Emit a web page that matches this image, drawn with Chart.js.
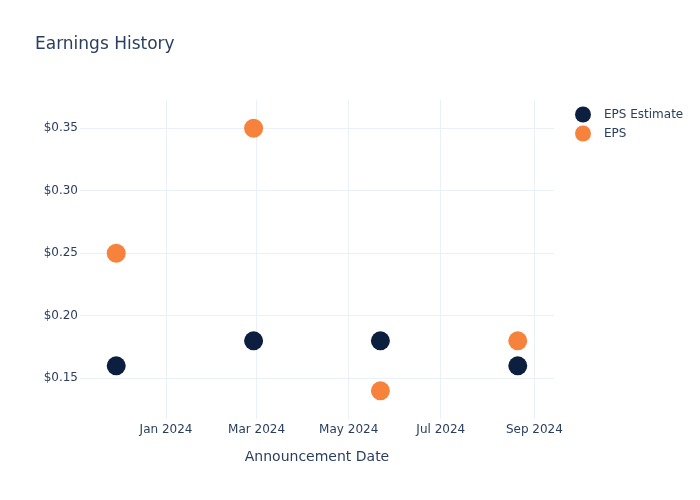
<!DOCTYPE html>
<html>
<head>
<meta charset="utf-8">
<title>Earnings History</title>
<script src="https://cdn.jsdelivr.net/npm/chart.js@4.4.1/dist/chart.umd.min.js"></script>
<style>
  html, body { margin: 0; padding: 0; background: #fff; }
  #wrap { width: 700px; height: 500px; }
</style>
</head>
<body>
<div id="wrap"><canvas id="myChart" width="700" height="500"></canvas></div>
<script>
// announcement dates and EPS values
const announceDates = ["2023-11-29", "2024-02-28", "2024-05-22", "2024-08-21"];
const epsEstimate = [0.16, 0.18, 0.18, 0.16];
const epsActual = [0.25, 0.35, 0.14, 0.18];

// axis ticks
const xTickDates = ["2024-01-01", "2024-03-01", "2024-05-01", "2024-07-01", "2024-09-01"];
const xTickLabels = ["Jan 2024", "Mar 2024", "May 2024", "Jul 2024", "Sep 2024"];
const yTicks = [0.15, 0.2, 0.25, 0.3, 0.35];
const xRange = ["2023-11-05", "2024-09-14"];
const yRange = [0.1175, 0.3726];

const seriesNames = ["EPS Estimate", "EPS"];
const seriesColors = ["#0c1f3f", "#f7823b"];

const textColor = "#2a3f5f";
const gridColor = "#ebf0f8";

Chart.defaults.font.family = "'DejaVu Sans', sans-serif";
Chart.defaults.color = textColor;

const toPoints = (vals) => vals.map((v, i) => ({ x: Date.parse(announceDates[i]), y: v }));

// title + legend drawn by hand, plotly-ish placement
const decorPlugin = {
  id: "decor",
  afterDraw(chart) {
    const ctx = chart.ctx;
    ctx.save();
    ctx.fillStyle = textColor;
    ctx.textBaseline = "middle";
    ctx.textAlign = "left";
    ctx.font = "17px 'DejaVu Sans', sans-serif";
    ctx.fillText("Earnings History", 35, 45);

    ctx.font = "12px 'DejaVu Sans', sans-serif";
    chart.data.datasets.forEach((ds, i) => {
      const y = 114.5 + i * 19;
      ctx.beginPath();
      ctx.fillStyle = ds.backgroundColor;
      ctx.arc(583, y, 8, 0, Math.PI * 2);
      ctx.fill();
      ctx.fillStyle = textColor;
      ctx.fillText(ds.label, 604, y);
    });
    ctx.restore();
  },
};

const chartCanvas = document.getElementById("myChart").getContext("2d");
new Chart(chartCanvas, {
  type: "scatter",
  data: {
    datasets: [
      {
        label: seriesNames[0],
        data: toPoints(epsEstimate),
        backgroundColor: seriesColors[0],
        borderWidth: 0,
        pointRadius: 9.5,
        pointHoverRadius: 9.5,
      },
      {
        label: seriesNames[1],
        data: toPoints(epsActual),
        backgroundColor: seriesColors[1],
        borderWidth: 0,
        pointRadius: 9.5,
        pointHoverRadius: 9.5,
      },
    ],
  },
  options: {
    responsive: false,
    animation: false,
    layout: { padding: { top: 100, right: 146, bottom: 0, left: 0 } },
    plugins: {
      legend: { display: false },
      tooltip: { enabled: false },
    },
    scales: {
      x: {
        type: "linear",
        min: Date.parse(xRange[0]),
        max: Date.parse(xRange[1]),
        afterBuildTicks: (scale) => {
          scale.ticks = xTickDates.map((d) => ({ value: Date.parse(d) }));
        },
        afterFit: (scale) => {
          scale.height = 81;
        },
        grid: { color: gridColor, drawTicks: false },
        border: { display: false },
        ticks: {
          autoSkip: false,
          maxRotation: 0,
          padding: 4,
          font: { size: 12 },
          callback: (value, index) => xTickLabels[index],
        },
        title: {
          display: true,
          text: "Announcement Date",
          font: { size: 14 },
          padding: { top: 0, bottom: 34 },
        },
      },
      y: {
        min: yRange[0],
        max: yRange[1],
        afterBuildTicks: (scale) => {
          scale.ticks = yTicks.map((v) => ({ value: v }));
        },
        afterFit: (scale) => {
          scale.width = 80;
        },
        grid: { color: gridColor, drawTicks: false },
        border: { display: false },
        ticks: {
          padding: 2,
          font: { size: 12 },
          callback: (value) => "$" + value.toFixed(2),
        },
      },
    },
  },
  plugins: [decorPlugin],
});
</script>
</body>
</html>
